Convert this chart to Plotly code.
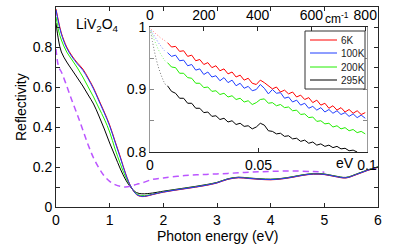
import plotly.graph_objects as go

W, H = 415, 246

# ---------------- main panel data (photon energy in eV) ----------------
energy = [0, 0.05, 0.1, 0.2, 0.3, 0.4, 0.5, 0.6, 0.7, 0.8, 0.9, 1.0, 1.1, 1.2, 1.3,
          1.4, 1.5, 1.6, 1.7, 1.8, 2.0, 2.2, 2.4, 2.6, 2.8, 3.0, 3.2, 3.4, 3.6, 3.8,
          4.0, 4.2, 4.4, 4.6, 4.8, 5.0, 5.2, 5.4, 5.6, 5.8, 6.0]
r_6K = [0.99, 0.925, 0.87, 0.80, 0.755, 0.72, 0.69, 0.645, 0.595, 0.535, 0.475, 0.41,
        0.33, 0.25, 0.165, 0.10, 0.062, 0.052, 0.055, 0.062, 0.074, 0.083, 0.091,
        0.099, 0.108, 0.12, 0.138, 0.146, 0.142, 0.138, 0.136, 0.14, 0.148, 0.158,
        0.164, 0.162, 0.152, 0.145, 0.162, 0.182, 0.198]
r_100K = [0.985, 0.918, 0.864, 0.794, 0.75, 0.715, 0.684, 0.64, 0.59, 0.53, 0.47,
          0.405, 0.325, 0.245, 0.162, 0.10, 0.063, 0.053, 0.056, 0.063, 0.075, 0.084,
          0.092, 0.10, 0.109, 0.121, 0.139, 0.147, 0.143, 0.139, 0.137, 0.141, 0.149,
          0.159, 0.165, 0.163, 0.153, 0.146, 0.163, 0.183, 0.199]
r_200K = [0.95, 0.88, 0.835, 0.775, 0.735, 0.695, 0.65, 0.60, 0.55, 0.495, 0.44, 0.375,
          0.29, 0.215, 0.148, 0.099, 0.066, 0.057, 0.059, 0.064, 0.076, 0.085, 0.093,
          0.101, 0.11, 0.122, 0.14, 0.148, 0.144, 0.14, 0.138, 0.142, 0.15, 0.16,
          0.166, 0.164, 0.154, 0.147, 0.164, 0.184, 0.2]
r_295K = [0.92, 0.83, 0.775, 0.725, 0.685, 0.645, 0.605, 0.56, 0.515, 0.455, 0.39, 0.32,
          0.255, 0.19, 0.135, 0.096, 0.072, 0.066, 0.067, 0.07, 0.079, 0.087, 0.095,
          0.103, 0.112, 0.123, 0.141, 0.149, 0.145, 0.141, 0.139, 0.143, 0.151, 0.161,
          0.167, 0.165, 0.155, 0.148, 0.165, 0.185, 0.201]

energy_dash = [0, 0.05, 0.1, 0.2, 0.3, 0.4, 0.5, 0.6, 0.7, 0.8, 0.9, 1.0, 1.1, 1.2, 1.3,
               1.4, 1.5, 1.6, 1.8, 2.0, 2.4, 2.8, 3.2, 3.6, 4.0, 4.4, 4.8, 5.0]
r_dash = [0.79, 0.70, 0.675, 0.605, 0.53, 0.46, 0.385, 0.31, 0.245, 0.195, 0.155, 0.128,
          0.112, 0.103, 0.10, 0.105, 0.113, 0.12, 0.138, 0.145, 0.157, 0.163, 0.168,
          0.174, 0.178, 0.18, 0.177, 0.174]

# ---------------- inset data (wavenumber in cm^-1) ----------------
wn = [65, 80, 95, 110, 125, 140, 155, 170, 185, 200, 215, 230, 245, 260, 275, 290, 305,
      320, 335, 350, 365, 380, 395, 410, 425, 440, 455, 470, 485, 500, 515, 530, 545,
      560, 575, 590, 605, 620, 635, 650, 665, 680, 695, 710, 725, 740, 755, 770, 785, 800]
ins_6K = [0.975, 0.968, 0.969, 0.961, 0.962, 0.953, 0.955, 0.946, 0.948, 0.940, 0.943,
          0.935, 0.938, 0.930, 0.933, 0.925, 0.928, 0.920, 0.923, 0.915, 0.918, 0.910,
          0.908, 0.915, 0.911, 0.906, 0.901, 0.904, 0.896, 0.899, 0.893, 0.896, 0.888,
          0.891, 0.884, 0.887, 0.879, 0.883, 0.875, 0.878, 0.870, 0.874, 0.867, 0.871,
          0.864, 0.868, 0.862, 0.866, 0.860, 0.863]
ins_100K = [0.959, 0.953, 0.955, 0.946, 0.947, 0.938, 0.940, 0.931, 0.933, 0.924, 0.928,
            0.920, 0.922, 0.914, 0.919, 0.911, 0.915, 0.906, 0.910, 0.902, 0.905, 0.898,
            0.900, 0.908, 0.902, 0.893, 0.900, 0.894, 0.895, 0.886, 0.888, 0.880, 0.883,
            0.875, 0.878, 0.870, 0.873, 0.867, 0.871, 0.864, 0.868, 0.862, 0.866, 0.860,
            0.863, 0.857, 0.861, 0.855, 0.859, 0.854]
ins_200K = [0.943, 0.936, 0.935, 0.926, 0.926, 0.919, 0.918, 0.910, 0.910, 0.903, 0.904,
            0.897, 0.898, 0.892, 0.894, 0.888, 0.890, 0.884, 0.886, 0.880, 0.882, 0.876,
            0.879, 0.884, 0.885, 0.878, 0.879, 0.874, 0.876, 0.871, 0.872, 0.866, 0.867,
            0.860, 0.861, 0.855, 0.856, 0.849, 0.850, 0.845, 0.846, 0.840, 0.842, 0.837,
            0.839, 0.834, 0.836, 0.831, 0.833, 0.829]
ins_295K = [0.906, 0.897, 0.894, 0.886, 0.886, 0.878, 0.878, 0.870, 0.870, 0.863, 0.864,
            0.857, 0.858, 0.852, 0.854, 0.848, 0.850, 0.844, 0.846, 0.841, 0.842, 0.837,
            0.840, 0.846, 0.843, 0.834, 0.833, 0.829, 0.830, 0.825, 0.826, 0.821, 0.822,
            0.817, 0.819, 0.814, 0.816, 0.811, 0.813, 0.809, 0.811, 0.807, 0.809, 0.805,
            0.806, 0.802, 0.803, 0.800]

# low-frequency extrapolations (dotted)
wn_ext = [3, 10, 17, 24, 31, 38, 45, 52, 59]
ext_6K = [0.997, 0.994, 0.991, 0.988, 0.986, 0.983, 0.981, 0.979, 0.977]
ext_100K = [0.995, 0.990, 0.985, 0.980, 0.975, 0.971, 0.967, 0.963, 0.960]
ext_200K = [0.994, 0.986, 0.978, 0.971, 0.964, 0.958, 0.953, 0.948, 0.944]
ext_295K = [0.992, 0.975, 0.960, 0.947, 0.936, 0.927, 0.919, 0.912, 0.907]

labels = ["6K", "100K", "200K", "295K"]
colors = ["#ff0000", "#1f3dff", "#22ee00", "#000000"]
ext_colors = ["#ff7a7a", "#7a8aff", "#8af57a", "#777777"]

main_series = [r_6K, r_100K, r_200K, r_295K]
ins_series = [ins_6K, ins_100K, ins_200K, ins_295K]
ext_series = [ext_6K, ext_100K, ext_200K, ext_295K]

CM_PER_EV = 8065.54

FONT = "Liberation Sans, Arial, Helvetica, sans-serif"

fig = go.Figure()

for i in [3, 2, 0, 1]:
    fig.add_trace(go.Scatter(x=energy, y=main_series[i], mode="lines",
                             line=dict(color=colors[i], width=1, shape="spline"),
                             xaxis="x", yaxis="y", showlegend=False))
fig.add_trace(go.Scatter(x=energy_dash, y=r_dash, mode="lines",
                         line=dict(color="#bb55ff", width=1.5, dash="6px,4px", shape="spline"),
                         xaxis="x", yaxis="y", showlegend=False))

# inset: measured spectra on the eV axis (x2), extrapolations on the cm^-1 axis (x3)
for i in [3, 2, 1, 0]:
    fig.add_trace(go.Scatter(x=wn_ext, y=ext_series[i], mode="lines",
                             line=dict(color=ext_colors[i], width=1, dash="1px,2px", shape="spline"),
                             xaxis="x3", yaxis="y2", showlegend=False))
    xs = [w / CM_PER_EV for w in wn[:len(ins_series[i])]]
    fig.add_trace(go.Scatter(x=xs, y=ins_series[i], mode="lines",
                             line=dict(color=colors[i], width=1),
                             xaxis="x2", yaxis="y2", showlegend=False))

def px(x):
    return x / W

def py(y):
    return (H - y) / H

axcol = "#262626"
tickfont = dict(family=FONT, size=14, color="#000")
common = dict(showgrid=False, zeroline=False, automargin=False, tickfont=tickfont,
              ticks="inside", ticklen=4, showline=True, linewidth=1)

inset_x_dom = [px(150), px(367)]

fig.update_layout(
    width=W, height=H,
    margin=dict(l=0, r=0, t=0, b=0, autoexpand=False),
    paper_bgcolor="white", plot_bgcolor="white",
    font=dict(family=FONT, size=14, color="#000"),
    xaxis=dict(domain=[px(56), px(378)], range=[0, 6], anchor="y",
               tickvals=[0, 1, 2, 3, 4, 5, 6], tickcolor=axcol, linecolor=axcol,
               mirror="ticks", **common),
    yaxis=dict(domain=[py(207), py(7)], range=[0, 1], anchor="x",
               tickvals=[0, 0.1, 0.2, 0.3, 0.4, 0.5, 0.6, 0.7, 0.8, 0.9, 1.0],
               ticktext=["0", "", "0.2", "", "0.4", "", "0.6", "", "0.8", "", "1"],
               tickcolor=axcol, linecolor=axcol, mirror="ticks", **common),
    xaxis2=dict(domain=inset_x_dom, range=[0, 0.1], anchor="y2",
                tickvals=[0, 0.05, 0.1], ticktext=["0", "0.05", "0.1"],
                tickcolor=axcol, linecolor=axcol, **common),
    xaxis3=dict(domain=inset_x_dom, range=[0, 806.55], overlaying="x2", side="top",
                anchor="y2", tickvals=[0, 200, 400, 600, 800],
                tickcolor=axcol, linecolor=axcol, **common),
    yaxis2=dict(domain=[py(152), py(27)], range=[0.8, 1.0], anchor="x2",
                tickvals=[0.8, 0.85, 0.9, 0.95, 1.0],
                ticktext=["0.8", "", "0.9", "", "1"],
                tickcolor="#888", linecolor="#999", mirror="ticks", **common),
)

annotations = [
    dict(text="Reflectivity", x=px(21), y=py(107), xref="paper", yref="paper",
         xanchor="center", yanchor="middle",
         textangle=-90, showarrow=False, font=dict(size=14)),
    dict(text="Photon energy (eV)", x=px(217), y=py(236), xref="paper", yref="paper",
         xanchor="center", yanchor="middle", showarrow=False, borderpad=0,
         font=dict(size=14)),
    dict(text="LiV<sub>2</sub>O<sub>4</sub>", x=px(74), y=py(25), xref="paper",
         yref="paper", xanchor="left", yanchor="middle", showarrow=False,
         font=dict(size=14)),
    dict(text="cm<sup>-1</sup>", x=px(337), y=py(18), xref="paper", yref="paper",
         xanchor="center", yanchor="middle", showarrow=False, borderpad=0,
         font=dict(size=12)),
    dict(text="eV", x=px(345), y=py(163), xref="paper", yref="paper",
         xanchor="center", yanchor="middle", showarrow=False, font=dict(size=14)),
]

shapes = [dict(type="rect", xref="paper", yref="paper", x0=px(305), x1=px(365),
               y0=py(89), y1=py(31), line=dict(color="#333", width=1),
               fillcolor="white", layer="above")]
legend_rows = [40, 53, 67, 80]
for lab, col, yy in zip(labels, colors, legend_rows):
    shapes.append(dict(type="line", xref="paper", yref="paper", x0=px(310), x1=px(337),
                       y0=py(yy), y1=py(yy), line=dict(color=col, width=1), layer="above"))
    annotations.append(dict(text=lab, x=px(339), y=py(yy), xref="paper", yref="paper",
                            xanchor="left", yanchor="middle", showarrow=False,
                            font=dict(size=10, color="#222")))

fig.update_layout(annotations=annotations, shapes=shapes)

fig.write_html("out.html", config={"displayModeBar": False},
               post_script="document.body.style.margin='0';document.body.style.overflow='hidden';")
